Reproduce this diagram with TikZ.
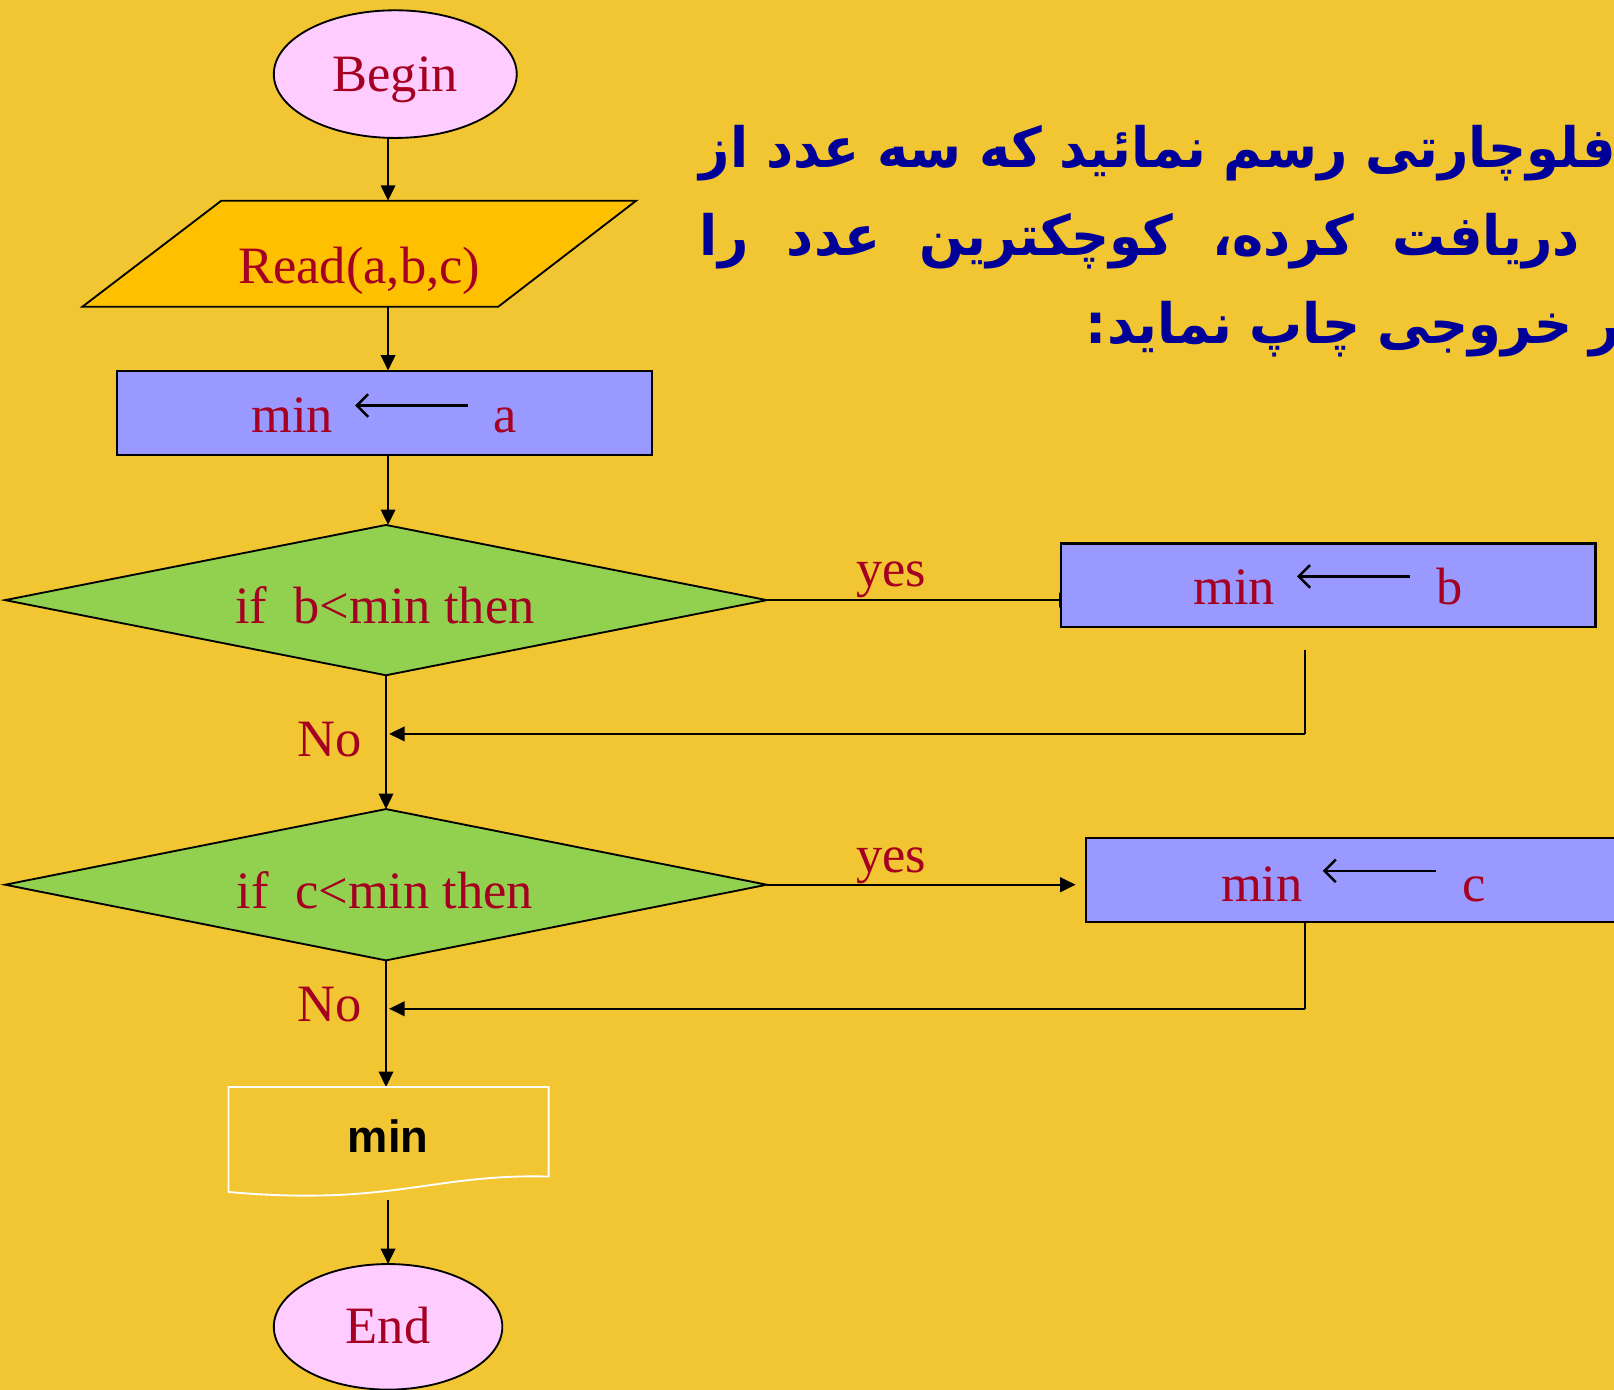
\documentclass[tikz,border=0pt]{standalone}
\usepackage{fontspec}
\setmainfont{Liberation Serif}
\newfontfamily\farsi[Script=Arabic]{DejaVu Sans}
\newfontfamily\plainsans{Liberation Sans}
\TeXXeTstate=1
\usetikzlibrary{shapes.geometric,arrows.meta,calc}

\definecolor{bgyellow}{HTML}{F2C632}
\definecolor{txtred}{HTML}{A50021}
\definecolor{termpink}{HTML}{FFCCFF}
\definecolor{iofill}{HTML}{FFC000}
\definecolor{procblue}{HTML}{9999FF}
\definecolor{decgreen}{HTML}{92D050}
\definecolor{headblue}{HTML}{000099}

\pgfdeclarelayer{bg}
\pgfdeclarelayer{edges}
\pgfsetlayers{bg,edges,main}

\begin{document}
\begin{tikzpicture}[x=1pt,y=-1pt,
  every node/.style={inner sep=0pt, outer sep=0pt},
  lbl/.style={text=txtred, font=\fontsize{51}{60}\selectfont, anchor=base},
  terminal/.style={ellipse, draw=black, line width=1.8pt, fill=termpink},
  proc/.style={rectangle, draw=black, line width=2pt, fill=procblue},
  decision/.style={diamond, draw=black, line width=1.8pt, fill=decgreen, aspect=5.07},
  flow/.style={draw=black, line width=2.2pt, -{Triangle[length=15pt,width=14pt]}},
  loopback/.style={draw=black, line width=2.2pt, -{Triangle[length=15pt,width=14pt]}},
  assign/.style={draw=black, line width=2.4pt, -{Straight Barb[length=11pt,width=22pt]}},
  heading/.style={text=headblue, font=\farsi\bfseries\fontsize{54}{60}\selectfont,
    anchor=base west, xscale=0.95}
]
\useasboundingbox (0,0) rectangle (1568,1350);
\begin{pgfonlayer}{bg}
  \fill[bgyellow] (0,0) rectangle (1568,1350);
\end{pgfonlayer}
\clip (0,0) rectangle (1568,1350);

% main column of the flowchart
\coordinate (col) at (377,0);
\node[terminal, minimum width=236pt, minimum height=124pt] (begin) at (384,72) {};
\node[lbl] (begintxt) at (384,89) {Begin};

% input parallelogram
\node[minimum width=538pt, minimum height=103pt] (read) at (349,246.5) {};
\draw[fill=iofill, line width=1.8pt] (read.south west) -- ($(read.south east)+(-134,0)$)
  -- (read.north east) -- ($(read.north west)+(135,0)$) -- cycle;
\node[lbl] (readtxt) at (349,275) {Read(a,b,c)};

% min <- a
\node[proc, minimum width=519pt, minimum height=82pt] (ma) at (373.5,401) {};
\node[lbl] (mamin) at (284,420) {min};
\node[lbl] (maval) at (491,420) {a};
\coordinate (maR) at (455,394);
\coordinate (maL) at (345,394);
\draw[assign] (maR) -- (maL);

% first test
\node[decision, minimum width=740pt, minimum height=146pt] (d1) at (375,583) {};
\node[lbl] (d1txt) at (374,606) {if\ \ b<min then};

% min <- b
\node[proc, minimum width=519pt, minimum height=81pt] (mb) at (1290.5,568.5) {};
\node[lbl] (mbmin) at (1199,587) {min};
\node[lbl] (mbval) at (1408,587) {b};
\coordinate (mbR) at (1370,560);
\coordinate (mbL) at (1260,560);
\draw[assign] (mbR) -- (mbL);
\node[lbl] (yes1) at (866,570) {yes};
\node[lbl] (no1) at (320,735) {No};

% second test
\node[decision, minimum width=740pt, minimum height=147pt] (d2) at (375,859.5) {};
\node[lbl] (d2txt) at (374,883) {if\ \ c<min then};

% min <- c
\node[proc, minimum width=525pt, minimum height=82pt] (mc) at (1317.5,855) {};
\node[lbl] (mcmin) at (1226,876) {min};
\node[lbl] (mcval) at (1432,876) {c};
\coordinate (mcR) at (1395,846);
\coordinate (mcL) at (1285,846);
\draw[assign] (mcR) -- (mcL);
\node[lbl] (yes2) at (866,848) {yes};
\node[lbl] (no2) at (320,992) {No};

% output document
\node[minimum width=311pt, minimum height=104pt] (out) at (377.5,1108) {};
\draw[white, line width=1.8pt] (out.north west) -- (out.north east) -- (533,1143)
  .. controls (420,1140) and (380,1172) .. (222,1158) -- cycle;
\node[font=\plainsans\bfseries\fontsize{44}{50}\selectfont, anchor=base] (outtxt) at (377,1120) {min};
\coordinate (outbot) at (377,1166);

% end
\node[terminal, minimum width=222pt, minimum height=122pt] (end) at (377,1289) {};
\node[lbl] (endtxt) at (377,1305) {End};

% the task statement
\node[heading] (q1) at (680,163) {\hbox to 937pt{\beginR فلوچارتی\hfill رسم\hfill نمائید\hfill که\hfill سه\hfill عدد\hfill از\endR}};
\node[heading] (q2) at (680,248) {\hbox to 900pt{\beginR دریافت\hfill کرده،\hfill کوچکترین\hfill عدد\hfill را\endR}};
\node[heading] (q3) at (1055,334) {\hbox to 574pt{\beginR در\hfill خروجی\hfill چاپ\hfill نماید:\endR}};

% connectors
\coordinate (r1top) at (1268,631);
\coordinate (r1end) at (378,713);
\coordinate (r2end) at (378,980);
\begin{pgfonlayer}{edges}
  \draw[flow] (begin.south -| col) -- (read.north -| col);
  \draw[flow] (read.south -| col) -- (ma.north -| col);
  \draw[flow] (ma.south -| col) -- (d1.north -| col);
  \draw[flow, shorten >=-13pt] (d1.east) -- (d1.east -| mb.west);
  \draw[flow] (d1.south) -- (d2.north);
  \draw[flow, shorten >=10pt] (d2.east) -- (d2.east -| mc.west);
  \draw[flow] (d2.south) -- (d2.south |- out.north);
  \draw[flow] (outbot) -- (end.north);
  \draw[line width=1.4pt] (r1top) -- (r1top |- r1end);
  \draw[loopback] (r1top |- r1end) -- (r1end);
  \draw[line width=1.4pt] (mc.south -| r1top) -- (r1top |- r2end);
  \draw[loopback] (r1top |- r2end) -- (r2end);
\end{pgfonlayer}
\end{tikzpicture}
\end{document}
